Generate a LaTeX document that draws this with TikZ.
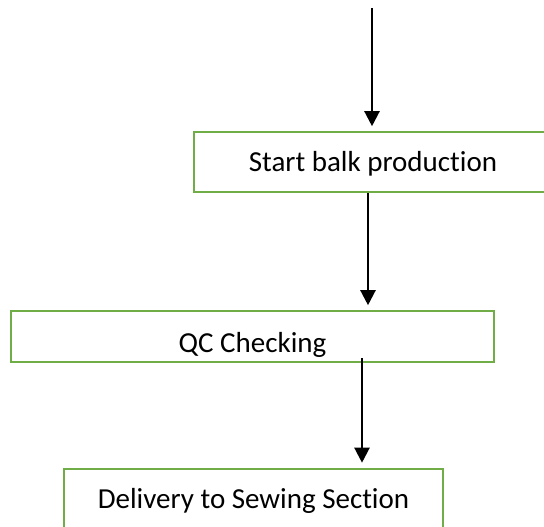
\documentclass[tikz,border=0pt]{standalone}
\usepackage{fontspec}
\setmainfont[Ligatures=NoCommon]{Carlito}
\usetikzlibrary{arrows.meta}
\definecolor{boxgreen}{RGB}{112,173,71}
\begin{document}
\begin{tikzpicture}[x=1pt,y=-1pt,
  box/.style={draw=boxgreen, line width=2.6pt, inner sep=0pt,
    font=\fontsize{29}{29}\selectfont, text height=18.7pt, text depth=0pt},
  arr/.style={-{Triangle[width=15pt,length=15pt]}, line width=2.3pt, black}]
\useasboundingbox (0,0) rectangle (544,527);
\clip (0,0) rectangle (544,527);
\node[box, minimum width=358pt, minimum height=60pt] (b1) at (373,162) {Start balk production};
\node[box, minimum width=483pt, minimum height=51pt, text height=31.7pt] (b2) at (252.5,336.5) {QC Checking};
\node[box, minimum width=379pt, minimum height=60pt] (b3) at (253.5,499) {Delivery to Sewing Section};
\coordinate (s1) at (372,8);
\coordinate (x2) at (368,0);
\coordinate (x3) at (362,0);
\draw[arr] (s1) -- ([yshift=4.5pt]b1.north -| s1);
\draw[arr] (b1.south -| x2) -- ([yshift=4.5pt]b2.north -| x2);
\draw[arr] ([yshift=5pt]b2.south -| x3) -- ([yshift=5pt]b3.north -| x3);
\end{tikzpicture}
\end{document}
